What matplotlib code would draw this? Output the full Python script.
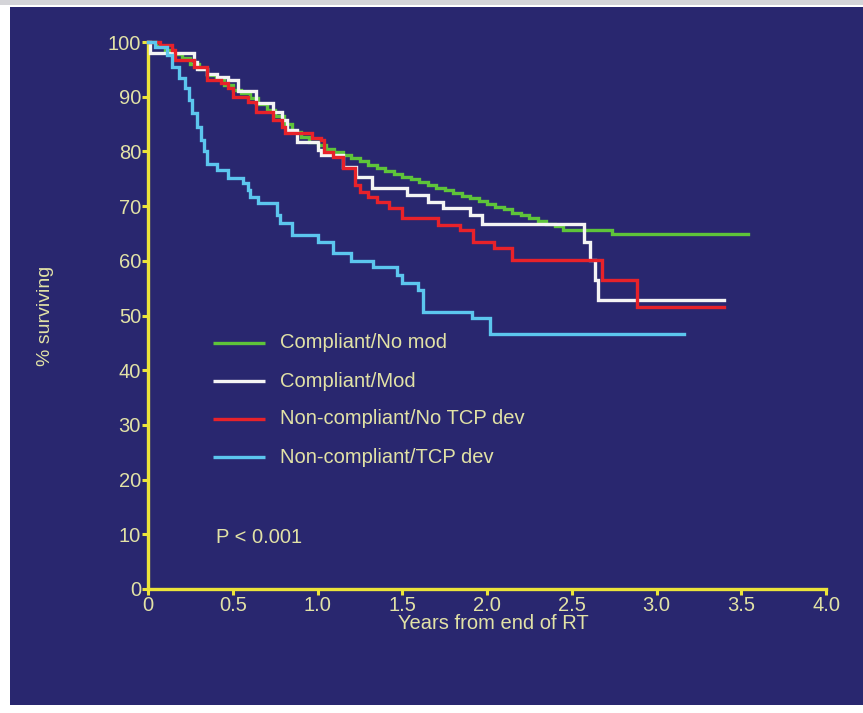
import matplotlib
matplotlib.use("Agg")
import matplotlib.pyplot as plt
from matplotlib.patches import Rectangle

# ---- data ----
green_t = [0, 0.05, 0.1, 0.15, 0.2, 0.25, 0.3, 0.35, 0.4, 0.45, 0.5, 0.55, 0.6, 0.65, 0.7,
           0.75, 0.8, 0.85, 0.9, 0.95, 1.0, 1.05, 1.1, 1.15, 1.2, 1.25, 1.3, 1.35, 1.4, 1.45,
           1.5, 1.55, 1.6, 1.65, 1.7, 1.75, 1.8, 1.85, 1.9, 1.95, 2.0, 2.05, 2.1, 2.15, 2.2,
           2.25, 2.3, 2.35, 2.4, 2.45, 2.74, 3.54]
green_s = [100, 99.2, 98.5, 97.8, 97, 96, 95, 94, 93.2, 92.2, 91.2, 90.6, 89.8, 88.7, 87.6,
           86.4, 85, 83.6, 82.6, 81.8, 81.1, 80.5, 79.9, 79.3, 78.8, 78.2, 77.6, 77, 76.4, 75.9,
           75.4, 74.9, 74.4, 73.9, 73.4, 72.9, 72.4, 71.9, 71.4, 70.9, 70.4, 69.9, 69.4, 68.8, 68.3,
           67.8, 67.3, 66.8, 66.4, 65.7, 64.9, 64.9]

white_t = [0, 0.01, 0.27, 0.29, 0.35, 0.41, 0.47, 0.53, 0.64, 0.74, 0.79, 0.82, 0.88, 1.00,
           1.02, 1.15, 1.23, 1.32, 1.53, 1.65, 1.74, 1.90, 1.97, 2.57, 2.61, 2.64, 2.655, 3.40]
white_s = [100, 98, 96.3, 95, 94.2, 93.6, 93, 91, 88.8, 87.2, 85.7, 84, 81.7, 80.3,
           79.3, 77.1, 75.3, 73.3, 72, 70.7, 69.7, 68.4, 66.8, 63.4, 60.1, 56.5, 52.8, 52.8]

red_t = [0, 0.07, 0.14, 0.16, 0.27, 0.35, 0.43, 0.47, 0.50, 0.59, 0.64, 0.74, 0.79, 0.81,
         0.97, 1.02, 1.04, 1.09, 1.15, 1.22, 1.25, 1.30, 1.35, 1.42, 1.50, 1.71, 1.84, 1.92,
         2.04, 2.15, 2.68, 2.885, 3.40]
red_s = [100, 99.5, 98.5, 96.7, 95.4, 93, 92.5, 91.6, 90, 89, 87.2, 85.7, 84.5, 83.4,
         82.5, 82, 79.9, 79, 77, 73.8, 72.6, 71.7, 70.7, 69.7, 67.8, 66.5, 65.6, 63.4,
         62.3, 60.1, 56.5, 51.6, 51.6]

cyan_t = [0, 0.04, 0.11, 0.14, 0.18, 0.22, 0.24, 0.26, 0.29, 0.31, 0.33, 0.35, 0.41, 0.47,
          0.56, 0.59, 0.60, 0.65, 0.76, 0.78, 0.85, 1.00, 1.09, 1.20, 1.33, 1.47, 1.50, 1.59,
          1.62, 1.91, 2.02, 3.16]
cyan_s = [100, 99, 97.6, 95.4, 93.4, 91.6, 89.4, 87, 84.5, 82, 80, 77.7, 76.6, 75.2,
          74.2, 72.9, 71.7, 70.6, 68.4, 66.9, 64.8, 63.5, 61.5, 60, 58.8, 57.4, 56, 54.7,
          50.7, 49.5, 46.7, 46.7]

labels = ["Compliant/No mod", "Compliant/Mod", "Non-compliant/No TCP dev", "Non-compliant/TCP dev"]
colors = ["#5ec43a", "#f4f4f4", "#e8222a", "#5cc6ee"]
x_ticks = [0, 0.5, 1.0, 1.5, 2.0, 2.5, 3.0, 3.5, 4.0]
x_ticklabels = ["0", "0.5", "1.0", "1.5", "2.0", "2.5", "3.0", "3.5", "4.0"]
y_ticks = [0, 10, 20, 30, 40, 50, 60, 70, 80, 90, 100]

NAVY = "#29276f"
YELLOW = "#ece43a"
TXT = "#e2e2a6"
plt.rcParams['font.family'] = ['Liberation Sans', 'DejaVu Sans']

W, H = 863, 713
fig = plt.figure(figsize=(W / 100, H / 100), dpi=100, facecolor="white")
fig.patches.append(Rectangle((10 / W, 1 - 705 / H), 1 - 10 / W, (705 - 7) / H,
                             transform=fig.transFigure, facecolor=NAVY, edgecolor="none", zorder=-10))
fig.patches.append(Rectangle((0, 1 - 5 / H), 1, 5 / H, transform=fig.transFigure,
                             facecolor="#d4d4d8", edgecolor="none", zorder=-10))

ax = fig.add_axes([148 / W, 1 - 589 / H, 678 / W, 547 / H])
ax.set_facecolor("none")
ax.set_zorder(1)

series = [(green_t, green_s), (white_t, white_s), (red_t, red_s), (cyan_t, cyan_s)]
for (t, s), c in zip(series, colors):
    ax.plot(t, s, drawstyle="steps-post", color=c, lw=2.4, solid_joinstyle="miter",
            zorder=3, clip_on=False)

ax.set_xlim(0, 4.0)
ax.set_ylim(0, 100)
ax.set_xticks(x_ticks)
ax.set_xticklabels(x_ticklabels)
ax.set_yticks(y_ticks)

for side in ["top", "right"]:
    ax.spines[side].set_visible(False)
for side in ["left", "bottom"]:
    ax.spines[side].set_color(YELLOW)
    ax.spines[side].set_linewidth(2.4)
    ax.spines[side].set_zorder(2)

ax.tick_params(axis="both", direction="out", length=4, width=2.2, color=YELLOW,
               labelcolor=TXT, labelsize=14.5, pad=1)

ax.set_xlabel("Years from end of RT", color=TXT, fontsize=14.5)
ax.xaxis.set_label_coords(0.509, -0.045)
ax.set_ylabel("% surviving", color=TXT, fontsize=14)
ax.yaxis.set_label_coords(-0.139, 0.5)

# legend (manually placed)
leg_rows = [45.0, 38.0, 31.1, 24.1]
for lab, c, yv in zip(labels, colors, leg_rows):
    ax.plot([0.383, 0.69], [yv, yv], color=c, lw=2.4, solid_capstyle="butt")
    ax.text(0.78, yv, lab, color=TXT, fontsize=14.5, va="center", ha="left")

ax.text(0.4, 9.5, "P < 0.001", color=TXT, fontsize=14.5, va="center", ha="left")

fig.savefig("out.png", dpi=100, facecolor="white")
